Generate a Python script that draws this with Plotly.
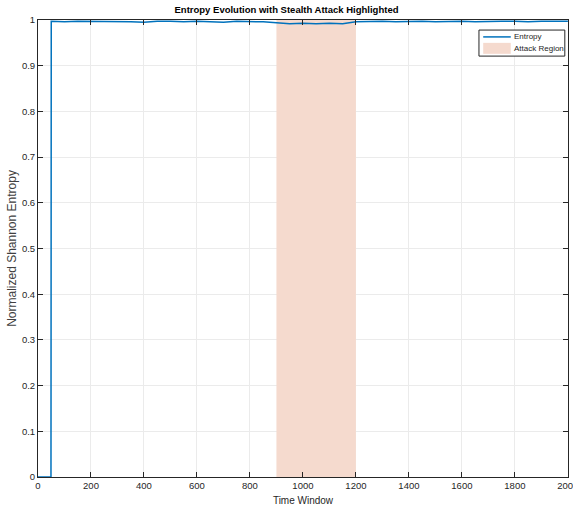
import plotly.graph_objects as go

# Data
time_window = [0, 49, 50, 100, 150, 200, 250, 300, 350, 400, 450, 500, 550, 600, 650, 700, 750, 800,
               850, 900, 950, 1000, 1050, 1100, 1150, 1200, 1250, 1300, 1350, 1400, 1450, 1500,
               1550, 1600, 1650, 1700, 1750, 1800, 1850, 1900, 1950, 2000]
entropy = [0, 0, 0.997, 0.996, 0.997, 0.997, 0.996, 0.997, 0.996, 0.995, 0.997, 0.997, 0.996, 0.997,
           0.996, 0.995, 0.997, 0.997, 0.996, 0.994, 0.992, 0.993, 0.992, 0.993, 0.992, 0.996, 0.997,
           0.997, 0.996, 0.997, 0.997, 0.996, 0.997, 0.997, 0.996, 0.997, 0.997, 0.997, 0.996, 0.997,
           0.997, 0.997]
attack_start, attack_end = 900, 1200
x_ticks = [0, 200, 400, 600, 800, 1000, 1200, 1400, 1600, 1800, 2000]
y_ticks = [0, 0.1, 0.2, 0.3, 0.4, 0.5, 0.6, 0.7, 0.8, 0.9, 1]
y_ticktext = ["0", "0.1", "0.2", "0.3", "0.4", "0.5", "0.6", "0.7", "0.8", "0.9", "1"]
legend_names = ["Entropy", "Attack Region"]

font_fam = "Liberation Sans Narrow, Arial Narrow, Liberation Sans, Arial"
line_color = "#0072BD"
attack_color = "rgb(245,218,206)"

fig = go.Figure()
fig.add_trace(go.Scatter(
    x=[attack_start, attack_end, attack_end, attack_start, attack_start],
    y=[0, 0, 1, 1, 0], fill="toself", fillcolor=attack_color,
    line=dict(width=0), mode="lines", name=legend_names[1], hoverinfo="skip",
    showlegend=False))
fig.add_trace(go.Scatter(x=time_window, y=entropy, mode="lines", name=legend_names[0],
                         line=dict(color=line_color, width=1.5), showlegend=False))

# manual compact legend (paper coords of the plot area)
lx0, lx1, ly0, ly1 = 0.832, 0.994, 0.921, 0.978
fig.add_shape(type="rect", xref="paper", yref="paper", x0=lx0, x1=lx1, y0=ly0, y1=ly1,
              line=dict(color="#262626", width=1), fillcolor="white", layer="above")
fig.add_shape(type="line", xref="paper", yref="paper", x0=0.840, x1=0.892, y0=0.963, y1=0.963,
              line=dict(color=line_color, width=1.5), layer="above")
fig.add_shape(type="rect", xref="paper", yref="paper", x0=0.840, x1=0.892, y0=0.926, y1=0.950,
              line=dict(width=0), fillcolor=attack_color, layer="above")
fig.add_annotation(xref="paper", yref="paper", x=0.895, y=0.963, text=legend_names[0],
                   showarrow=False, xanchor="left", yanchor="middle",
                   font=dict(size=8, color="#262626"))
fig.add_annotation(xref="paper", yref="paper", x=0.895, y=0.938, text=legend_names[1],
                   showarrow=False, xanchor="left", yanchor="middle",
                   font=dict(size=8, color="#262626"))

fig.update_layout(
    width=573, height=512,
    margin=dict(l=38, r=5, t=20, b=35),
    paper_bgcolor="white", plot_bgcolor="white",
    font=dict(family=font_fam, size=9.5, color="#262626"),
    title=dict(text="<b>Entropy Evolution with Stealth Attack Highlighted</b>",
               x=0.5, xanchor="center", y=0.988, yanchor="top",
               font=dict(size=9.5, color="black", family=font_fam)),
    showlegend=False,
    xaxis=dict(range=[0, 2000.5], tickvals=x_ticks, ticks="inside", ticklen=5,
               tickcolor="#262626", ticklabeloverflow="allow", automargin=False,
               showgrid=True, gridcolor="#EBEBEB", gridwidth=1,
               showline=True, linecolor="#262626", linewidth=1, mirror="ticks",
               zeroline=False,
               title=dict(text="Time Window", standoff=6, font=dict(size=10))),
    yaxis=dict(range=[0, 1], tickvals=y_ticks, ticktext=y_ticktext, automargin=False,
               ticks="inside", ticklen=5, tickcolor="#262626",
               showgrid=True, gridcolor="#EBEBEB", gridwidth=1,
               showline=True, linecolor="#262626", linewidth=1, mirror="ticks",
               zeroline=False,
               title=dict(text="Normalized Shannon Entropy", standoff=2,
                          font=dict(size=12, color="#404040"))),
)
fig.write_html("out.html")
